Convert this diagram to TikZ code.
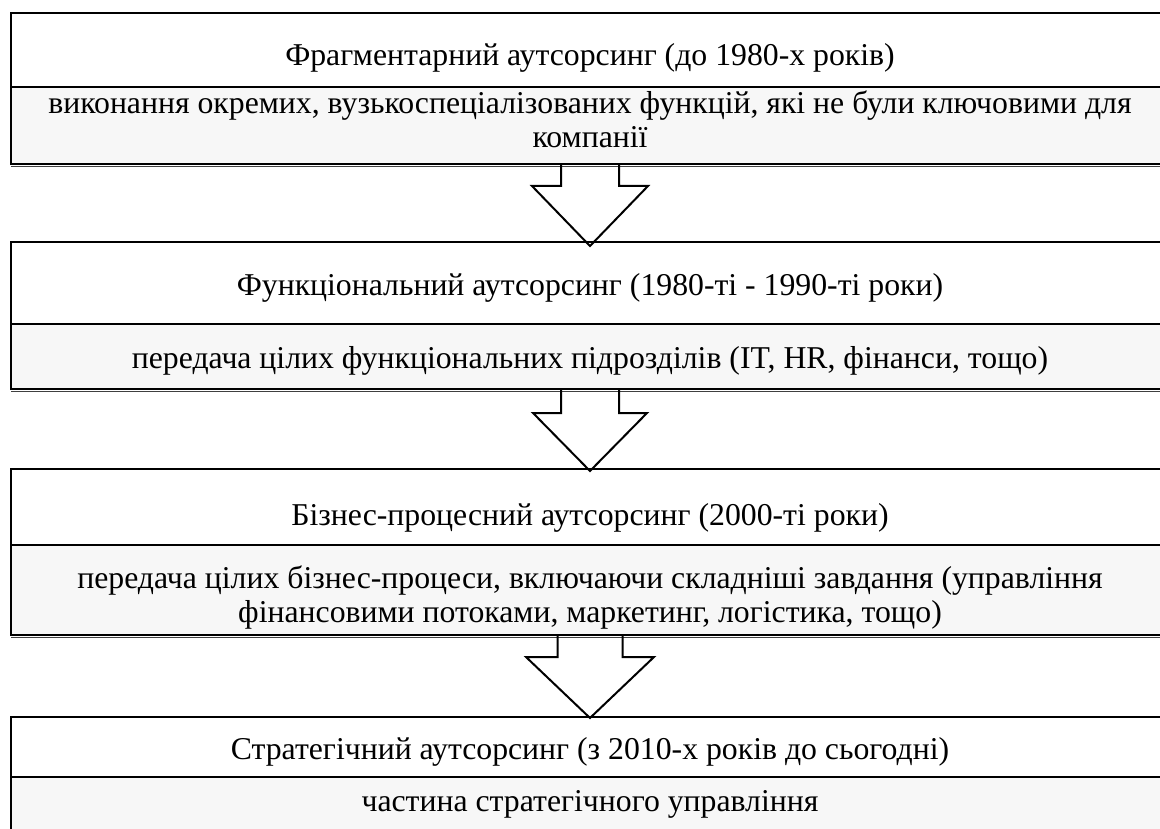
\documentclass[tikz,border=0pt]{standalone}
\usepackage{fontspec}
\setmainfont{Liberation Serif}
\usetikzlibrary{calc}
\begin{document}
\begin{tikzpicture}[x=1pt,y=-1pt,
  head/.style={draw=black, line width=2pt, fill=white, minimum width=1158pt, inner sep=0pt, outer sep=0pt},
  body/.style={draw=black, line width=2pt, fill=black!3, minimum width=1158pt, inner sep=0pt, outer sep=0pt},
  lbl/.style={font=\fontsize{31.75}{34}\selectfont, align=center, inner sep=0pt},
  shadowline/.style={draw=black!75, line width=1.2pt},
  blockarrow/.style={draw=black, line width=2pt, line join=miter}]
\useasboundingbox (0,0) rectangle (1160,829);
\clip (0,0) rectangle (1160,829);
% boxes
\node[head, minimum height=74pt] (H1) at (590,50) {};
\node[body, minimum height=77pt] (B1) at (590,125.5) {};
\node[head, minimum height=82pt] (H2) at (590,283) {};
\node[body, minimum height=65pt] (B2) at (590,356.5) {};
\node[head, minimum height=76pt] (H3) at (590,507) {};
\node[body, minimum height=90pt] (B3) at (590,590) {};
\node[head, minimum height=60pt] (H4) at (590,747) {};
\node[body, minimum height=83pt] (B4) at (590,818.5) {};
% shadow lines
\draw[shadowline] ($(B1.south west)+(0,2.5)$) -- ($(B1.south east)+(0,2.5)$);
\draw[shadowline] ($(B2.south west)+(0,2.5)$) -- ($(B2.south east)+(0,2.5)$);
\draw[shadowline] ($(B3.south west)+(0,2.5)$) -- ($(B3.south east)+(0,2.5)$);
% texts
\node[lbl, anchor=base] (H1t) at (590,65.5) {Фрагментарний аутсорсинг (до 1980-х років)};
\node[lbl] (B1t) at (590,119.5) {виконання окремих, вузькоспеціалізованих функцій, які не були ключовими для\\компанії};
\node[lbl, anchor=base] (H2t) at (590,295) {Функціональний аутсорсинг (1980-ті - 1990-ті роки)};
\node[lbl, anchor=base] (B2t) at (590,368) {передача цілих функціональних підрозділів (IT, HR, фінанси, тощо)};
\node[lbl, anchor=base] (H3t) at (590,525) {Бізнес-процесний аутсорсинг (2000-ті роки)};
\node[lbl] (B3t) at (590,598) {передача цілих бізнес-процеси, включаючи складніші завдання (управління\\фінансовими потоками, маркетинг, логістика, тощо)};
\node[lbl, anchor=base] (H4t) at (590,759) {Стратегічний аутсорсинг (з 2010-х років до сьогодні)};
\node[lbl, anchor=base] (B4t) at (590,811) {частина стратегічного управління};
% arrows
\draw[blockarrow] ($(B1.south)+(-29,0)$) -- ++(0,22) -- ++(-29,0) -- ($(H2.north)+(0,4)$) -- ($(B1.south)+(58,22)$) -- ++(-29,0) -- ++(0,-22);
\draw[blockarrow] ($(B2.south)+(-29,0)$) -- ++(0,24) -- ++(-28,0) -- ($(H3.north)+(0,2)$) -- ($(B2.south)+(57,24)$) -- ++(-28,0) -- ++(0,-24);
\draw[blockarrow] ($(B3.south)+(-32.5,0)$) -- ++(0,22) -- ++(-31.5,0) -- ($(H4.north)+(0,1)$) -- ($(B3.south)+(64,22)$) -- ++(-31.5,0) -- ++(0,-22);
\end{tikzpicture}
\end{document}
